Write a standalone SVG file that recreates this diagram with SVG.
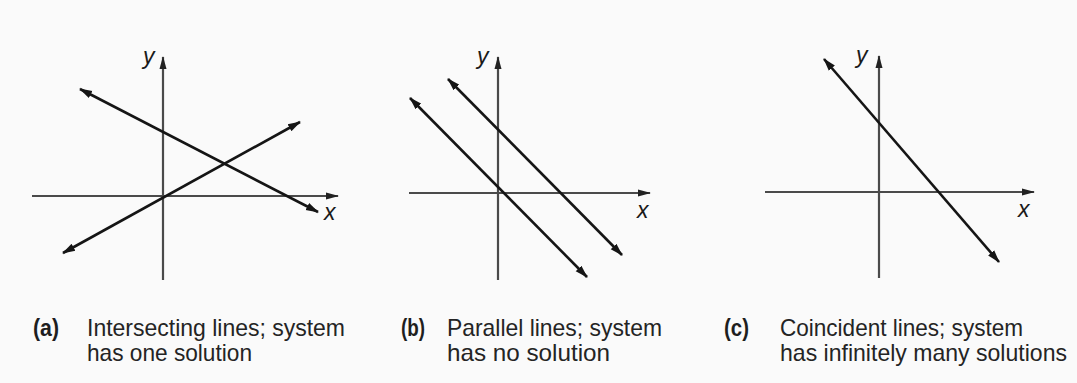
<svg xmlns="http://www.w3.org/2000/svg" width="1077" height="383" viewBox="0 0 1077 383">
<style>
.bg{fill:#fafafa}
.axis{stroke:#4a4a4a;stroke-width:2.2;fill:none}
.ln{stroke:#151515;stroke-width:2.6;fill:none}
.lbl{font-family:"Liberation Sans",Arial,sans-serif;font-style:italic;font-size:23px;fill:#1a1a1a}
.cap{font-family:"Liberation Sans",Arial,sans-serif;font-size:24px;fill:#242424}
.tag{font-family:"Liberation Sans",Arial,sans-serif;font-size:24px;font-weight:bold;fill:#1e1e1e}
</style>
<defs>
<marker id="ah" markerUnits="userSpaceOnUse" markerWidth="14" markerHeight="10" refX="12" refY="5" orient="auto-start-reverse">
<path d="M0,1 L13,5 L0,9 z" fill="#151515"/>
</marker>
<marker id="ax" markerUnits="userSpaceOnUse" markerWidth="14" markerHeight="10" refX="12" refY="5" orient="auto">
<path d="M0,1.5 L13,5 L0,8.5 z" fill="#222"/>
</marker>
</defs>
<rect class="bg" x="0" y="0" width="1077" height="383"/>

<g id="panel-a">
<line class="axis" x1="163" y1="280" x2="163" y2="57" marker-end="url(#ax)"/>
<line class="axis" x1="32" y1="196" x2="338" y2="196" marker-end="url(#ax)"/>
<text class="lbl" x="143" y="64">y</text>
<text class="lbl" x="324" y="220">x</text>
</g>
<g id="panel-b">
<line class="axis" x1="498" y1="280" x2="498" y2="57" marker-end="url(#ax)"/>
<line class="axis" x1="409" y1="193" x2="650" y2="193" marker-end="url(#ax)"/>
<text class="lbl" x="477" y="64">y</text>
<text class="lbl" x="637" y="218">x</text>
</g>
<g id="panel-c">
<line class="axis" x1="879" y1="278" x2="879" y2="56" marker-end="url(#ax)"/>
<line class="axis" x1="765" y1="192" x2="1034" y2="192" marker-end="url(#ax)"/>
<text class="lbl" x="856" y="63">y</text>
<text class="lbl" x="1018" y="217">x</text>
</g>

<g id="connectors">
<line class="ln" x1="80" y1="89" x2="318" y2="212" marker-start="url(#ah)" marker-end="url(#ah)"/>
<line class="ln" x1="63" y1="253" x2="300" y2="122" marker-start="url(#ah)" marker-end="url(#ah)"/>
<line class="ln" x1="448" y1="79" x2="622" y2="255" marker-start="url(#ah)" marker-end="url(#ah)"/>
<line class="ln" x1="410" y1="98" x2="587" y2="277" marker-start="url(#ah)" marker-end="url(#ah)"/>
<line class="ln" x1="824" y1="59" x2="999" y2="262" marker-start="url(#ah)" marker-end="url(#ah)"/>
</g>

<g id="caption-a">
<text class="tag" x="33" y="336" textLength="26" lengthAdjust="spacingAndGlyphs">(a)</text>
<text class="cap" x="87" y="336" textLength="258" lengthAdjust="spacingAndGlyphs">Intersecting lines; system</text>
<text class="cap" x="87" y="361" textLength="165" lengthAdjust="spacingAndGlyphs">has one solution</text>
</g>
<g id="caption-b">
<text class="tag" x="401" y="336" textLength="24" lengthAdjust="spacingAndGlyphs">(b)</text>
<text class="cap" x="447" y="336" textLength="215" lengthAdjust="spacingAndGlyphs">Parallel lines; system</text>
<text class="cap" x="447" y="361" textLength="163" lengthAdjust="spacingAndGlyphs">has no solution</text>
</g>
<g id="caption-c">
<text class="tag" x="724" y="336" textLength="25" lengthAdjust="spacingAndGlyphs">(c)</text>
<text class="cap" x="780" y="336" textLength="243" lengthAdjust="spacingAndGlyphs">Coincident lines; system</text>
<text class="cap" x="780" y="361" textLength="287" lengthAdjust="spacingAndGlyphs">has infinitely many solutions</text>
</g>
</svg>
